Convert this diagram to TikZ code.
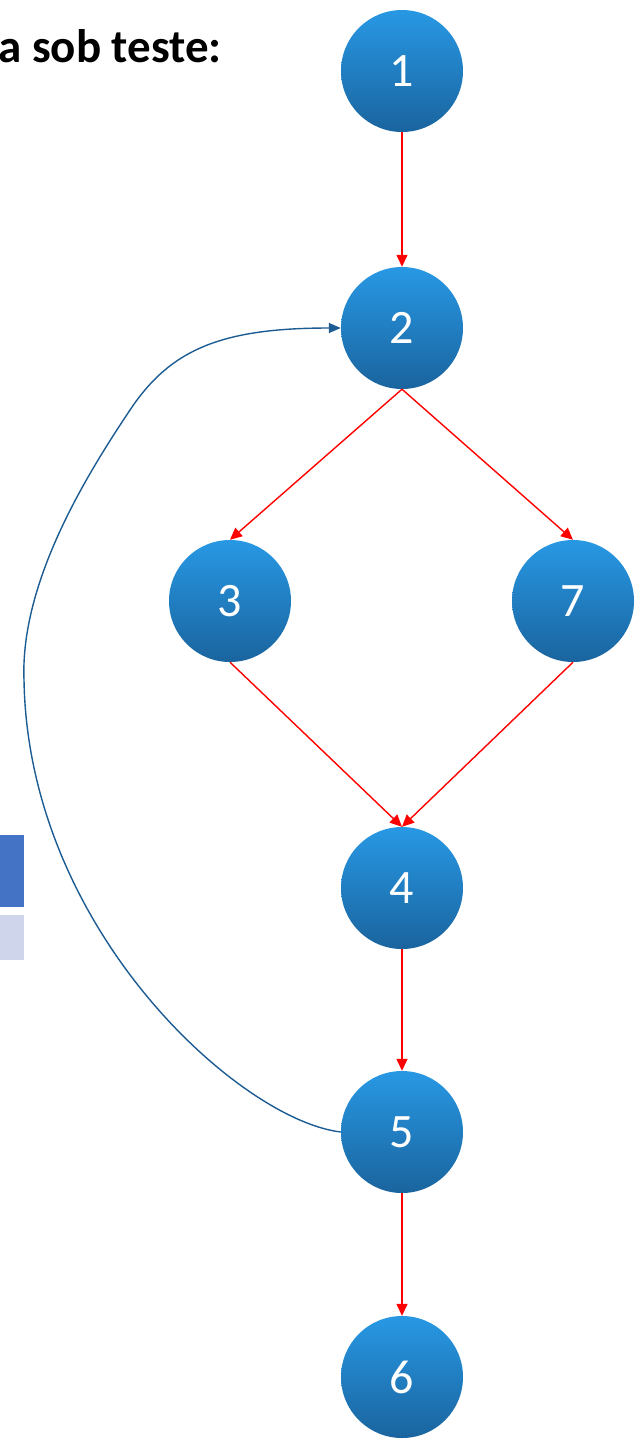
\documentclass[tikz,border=0pt]{standalone}
\usepackage{fontspec}
\setmainfont{Carlito}
\usetikzlibrary{arrows.meta}
\definecolor{nodetop}{RGB}{40,152,228}
\definecolor{nodebot}{RGB}{26,100,158}
\definecolor{flowred}{RGB}{255,0,0}
\definecolor{loopblue}{RGB}{28,92,146}
\definecolor{bardark}{RGB}{68,114,196}
\definecolor{barlight}{RGB}{207,213,234}
\begin{document}
\begin{tikzpicture}[x=1pt,y=-1pt,
  vertex/.style={circle, minimum size=122pt, inner sep=0pt,
    top color=nodetop, bottom color=nodebot, draw=none,
    text=white, font=\fontsize{48}{48}\selectfont},
  flow/.style={draw=flowred, line width=1.4pt,
    -{Triangle[length=12pt,width=11pt]}},
  loop/.style={draw=loopblue, line width=1.4pt,
    -{Triangle[length=12pt,width=10pt]}},
  caption/.style={font=\bfseries\fontsize{47}{47}\selectfont, anchor=base east, inner sep=0pt}]
  \useasboundingbox (0,0) rectangle (643,1440);

  % heading fragment at the top left
  \node[caption] (title) at (222,62) {a sob teste:};

  % bars at the left edge
  \fill[bardark] (0,835) rectangle (24,907) node[pos=0.5] (bartop) {};
  \fill[barlight] (0,915) rectangle (24,960) node[pos=0.5] (barbot) {};

  % control flow graph nodes
  \node[vertex] (n1) at (402,71) {1};
  \node[vertex] (n2) at (402,328) {2};
  \node[vertex] (n3) at (230,601) {3};
  \node[vertex] (n7) at (573,601) {7};
  \node[vertex] (n4) at (402,888) {4};
  \node[vertex] (n5) at (402,1132) {5};
  \node[vertex] (n6) at (402,1377) {6};

  % edges
  \draw[flow] (n1.south) -- (n2.north);
  \draw[flow] (n2.south) -- (n3.north);
  \draw[flow] (n2.south) -- (n7.north);
  \draw[flow] (n3.south) -- (n4.north);
  \draw[flow] (n7.south) -- (n4.north);
  \draw[flow] (n4.south) -- (n5.north);
  \draw[flow] (n5.south) -- (n6.north);

  % back edge from 5 to 2
  \coordinate (bend) at (24,680);
  \coordinate (rise) at (130,410);
  \draw[loop] (n5.west) .. controls (240,1120) and (28,930) .. (bend)
    .. controls (20,580) and (90,470) .. (rise)
    .. controls (170,350) and (220,328) .. (n2.west);
\end{tikzpicture}
\end{document}
